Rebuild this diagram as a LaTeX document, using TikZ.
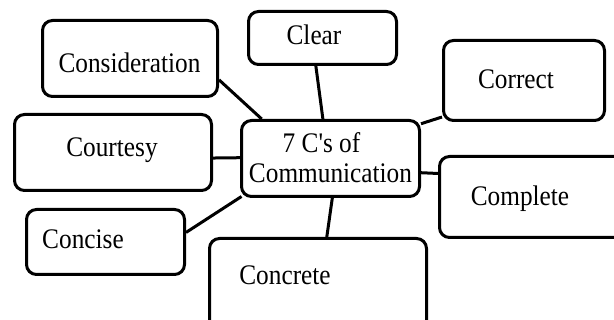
\documentclass[tikz,border=0pt]{standalone}
\usepackage{fontspec}
\setmainfont{Liberation Serif}
\usetikzlibrary{calc}
\newcommand{\vst}[1]{\scalebox{1}[1.12]{#1}}
\begin{document}
\begin{tikzpicture}[x=1pt,y=-1pt,
  box/.style={draw=black,line width=3pt,rounded corners=10pt,inner sep=0pt},
  lbl/.style={anchor=base,inner sep=0pt,font=\fontsize{25.3}{28}\selectfont},
  conn/.style={draw=black,line width=3pt}]
\useasboundingbox (0,0) rectangle (614,320);
\clip (0,0) rectangle (614,320);
% boxes
\node[box,minimum width=175pt,minimum height=76pt] (cons) at (130,58.5) {};
\node[box,minimum width=148pt,minimum height=53pt] (clear) at (322.5,38) {};
\node[box,minimum width=161pt,minimum height=80pt] (corr) at (524,80.5) {};
\node[box,minimum width=197pt,minimum height=76pt] (court) at (113,152.5) {};
\node[box,minimum width=178pt,minimum height=76pt] (ctr) at (330.5,158.5) {};
\node[box,minimum width=189pt,minimum height=81pt] (compl) at (534,197) {};
\node[box,minimum width=158pt,minimum height=65pt] (conc) at (105.5,242) {};
\node[box,minimum width=217pt,minimum height=95pt] (concr) at (318,286) {};
% texts
\node[lbl] (tcons) at (129.5,73) {\vst{Consideration}};
\node[lbl] (tclear) at (314,45) {\vst{Clear}};
\node[lbl] (tcorr) at (516,89) {\vst{Correct}};
\node[lbl] (tcourt) at (112,157) {\vst{Courtesy}};
\node[lbl] (tctr1) at (321.5,153) {\vst{7 C\textquotesingle s of}};
\node[lbl] (tctr2) at (330.5,183) {\vst{Communication}};
\node[lbl] (tcompl) at (520,206) {\vst{Complete}};
\node[lbl] (tconc) at (83,249) {\vst{Concise}};
\node[lbl] (tconcr) at (285,285) {\vst{Concrete}};
% connectors
\draw[conn] ($(cons.north east)!0.77!(cons.south east)$) -- ($(ctr.north west)!0.12!(ctr.north east)$);
\draw[conn] ($(clear.south west)!0.456!(clear.south east)$) -- ($(ctr.north west)!0.458!(ctr.north east)$);
\draw[conn] ($(corr.north west)!0.94!(corr.south west)$) -- ($(ctr.north east)!0.06!(ctr.south east)$);
\draw[conn] ($(court.north east)!0.57!(court.south east)$) -- ($(ctr.north west)!0.49!(ctr.south west)$);
\draw[conn] ($(conc.north east)!0.36!(conc.south east)$) -- ($(ctr.south west)+(1.5,-1.5)$);
\draw[conn] ($(ctr.north east)!0.68!(ctr.south east)$) -- ($(compl.north west)!0.22!(compl.south west)$);
\draw[conn] ($(ctr.south west)!0.51!(ctr.south east)$) -- ($(concr.north west)!0.54!(concr.north east)$);
\end{tikzpicture}
\end{document}
